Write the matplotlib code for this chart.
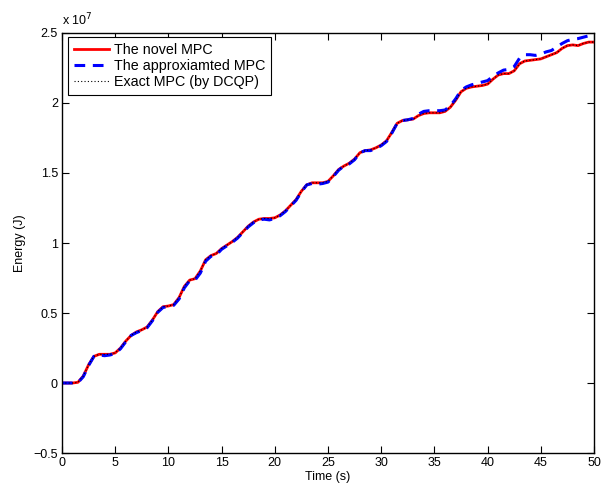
import matplotlib
matplotlib.use('Agg')
import matplotlib.pyplot as plt

plt.rcParams['font.family'] = ['Liberation Sans', 'DejaVu Sans']

# Datos (energia en unidades de 1e7 J)
time_s = [0, 1, 1.5, 2, 2.5, 3, 3.5, 4, 4.5, 5, 5.5, 6, 6.5, 7, 7.5, 8, 8.5, 9, 9.5, 10,
          10.5, 11, 11.5, 12, 12.5, 13, 13.5, 14, 14.5, 15, 15.5, 16, 16.5, 17, 17.5, 18,
          18.5, 19, 19.5, 20, 20.5, 21, 21.5, 22, 22.5, 23, 23.5, 24, 24.5, 25, 25.5, 26,
          26.5, 27, 27.5, 28, 28.5, 29, 29.5, 30, 30.5, 31, 31.5, 32, 32.5, 33, 33.5, 34,
          34.5, 35, 35.5, 36, 36.5, 37, 37.5, 38, 38.5, 39, 39.5, 40, 40.5, 41, 41.5, 42,
          42.5, 43, 43.5, 44, 44.5, 45, 45.5, 46, 46.5, 47, 47.5, 48, 48.5, 49, 49.5, 50]

novel_mpc = [0, 0, 0.005, 0.05, 0.13, 0.19, 0.205, 0.205, 0.205, 0.215, 0.25, 0.30, 0.34,
             0.365, 0.38, 0.40, 0.45, 0.51, 0.545, 0.55, 0.56, 0.61, 0.69, 0.735, 0.745,
             0.80, 0.88, 0.91, 0.925, 0.96, 0.985, 1.01, 1.04, 1.08, 1.12, 1.15, 1.17,
             1.175, 1.175, 1.18, 1.20, 1.23, 1.27, 1.31, 1.37, 1.415, 1.43, 1.43, 1.43,
             1.44, 1.48, 1.525, 1.55, 1.57, 1.60, 1.645, 1.66, 1.665, 1.68, 1.70, 1.73,
             1.79, 1.855, 1.875, 1.88, 1.885, 1.91, 1.925, 1.93, 1.93, 1.93, 1.94, 1.97,
             2.02, 2.08, 2.105, 2.115, 2.12, 2.125, 2.135, 2.17, 2.20, 2.21, 2.21, 2.23,
             2.28, 2.30, 2.305, 2.31, 2.315, 2.33, 2.345, 2.36, 2.39, 2.41, 2.415, 2.41,
             2.425, 2.435, 2.435]

approx_mpc = [0, 0, 0.003, 0.045, 0.125, 0.19, 0.2, 0.195, 0.2, 0.21, 0.245, 0.295, 0.34,
              0.36, 0.375, 0.395, 0.445, 0.505, 0.54, 0.545, 0.555, 0.6, 0.68, 0.73, 0.735,
              0.785, 0.87, 0.905, 0.915, 0.955, 0.98, 1.005, 1.035, 1.075, 1.115, 1.145, 1.165,
              1.17, 1.165, 1.175, 1.195, 1.225, 1.265, 1.305, 1.365, 1.415, 1.425, 1.42, 1.425,
              1.435, 1.475, 1.52, 1.55, 1.565, 1.595, 1.645, 1.66, 1.66, 1.675, 1.695, 1.725,
              1.785, 1.855, 1.875, 1.88, 1.89, 1.92, 1.94, 1.945, 1.945, 1.945, 1.95, 1.98,
              2.03, 2.09, 2.115, 2.13, 2.14, 2.15, 2.16, 2.19, 2.215, 2.235, 2.24, 2.26,
              2.32, 2.345, 2.345, 2.34, 2.35, 2.365, 2.375, 2.40, 2.425, 2.445, 2.455, 2.46,
              2.47, 2.48, 2.48]

exact_mpc = novel_mpc

fig = plt.figure(figsize=(6.06, 4.86), dpi=100)
ax = fig.add_axes([0.1023, 0.0679, 0.8779, 0.8642])

ax.plot(time_s, novel_mpc, color='red', linewidth=2, label='The novel MPC')
ax.plot(time_s, approx_mpc, color='blue', linewidth=2.2, linestyle=(0, (3.5, 2.5)),
        label='The approxiamted MPC')
ax.plot(time_s, exact_mpc, color='black', linewidth=0.8, linestyle=(0, (1, 2)),
        label='Exact MPC (by DCQP)')

ax.set_xlim(0, 50)
ax.set_ylim(-0.5, 2.5)
ax.set_xticks(range(0, 51, 5))
ax.set_yticks([-0.5, 0, 0.5, 1, 1.5, 2, 2.5])
ax.set_yticklabels(['\u22120.5', '0', '0.5', '1', '1.5', '2', '2.5'])
ax.tick_params(direction='in', length=5, width=0.8, top=True, right=True,
               labelsize=9, pad=3)
for s in ax.spines.values():
    s.set_linewidth(1)

ax.set_xlabel('Time (s)', fontsize=9, labelpad=1)
ax.set_ylabel('Energy (J)', fontsize=9, labelpad=5)
ax.text(0.0, 1.012, r'x 10$^{7}$', transform=ax.transAxes, fontsize=9,
        ha='left', va='bottom')

leg = ax.legend(loc='upper left', bbox_to_anchor=(0.0113, 0.99), borderaxespad=0,
                fontsize=10.3, handlelength=2.5, handletextpad=0.3, labelspacing=0.15,
                borderpad=0.4, fancybox=False, framealpha=1)
leg.get_frame().set_edgecolor('black')
leg.get_frame().set_linewidth(0.8)

plt.savefig('out.png', dpi=100)
